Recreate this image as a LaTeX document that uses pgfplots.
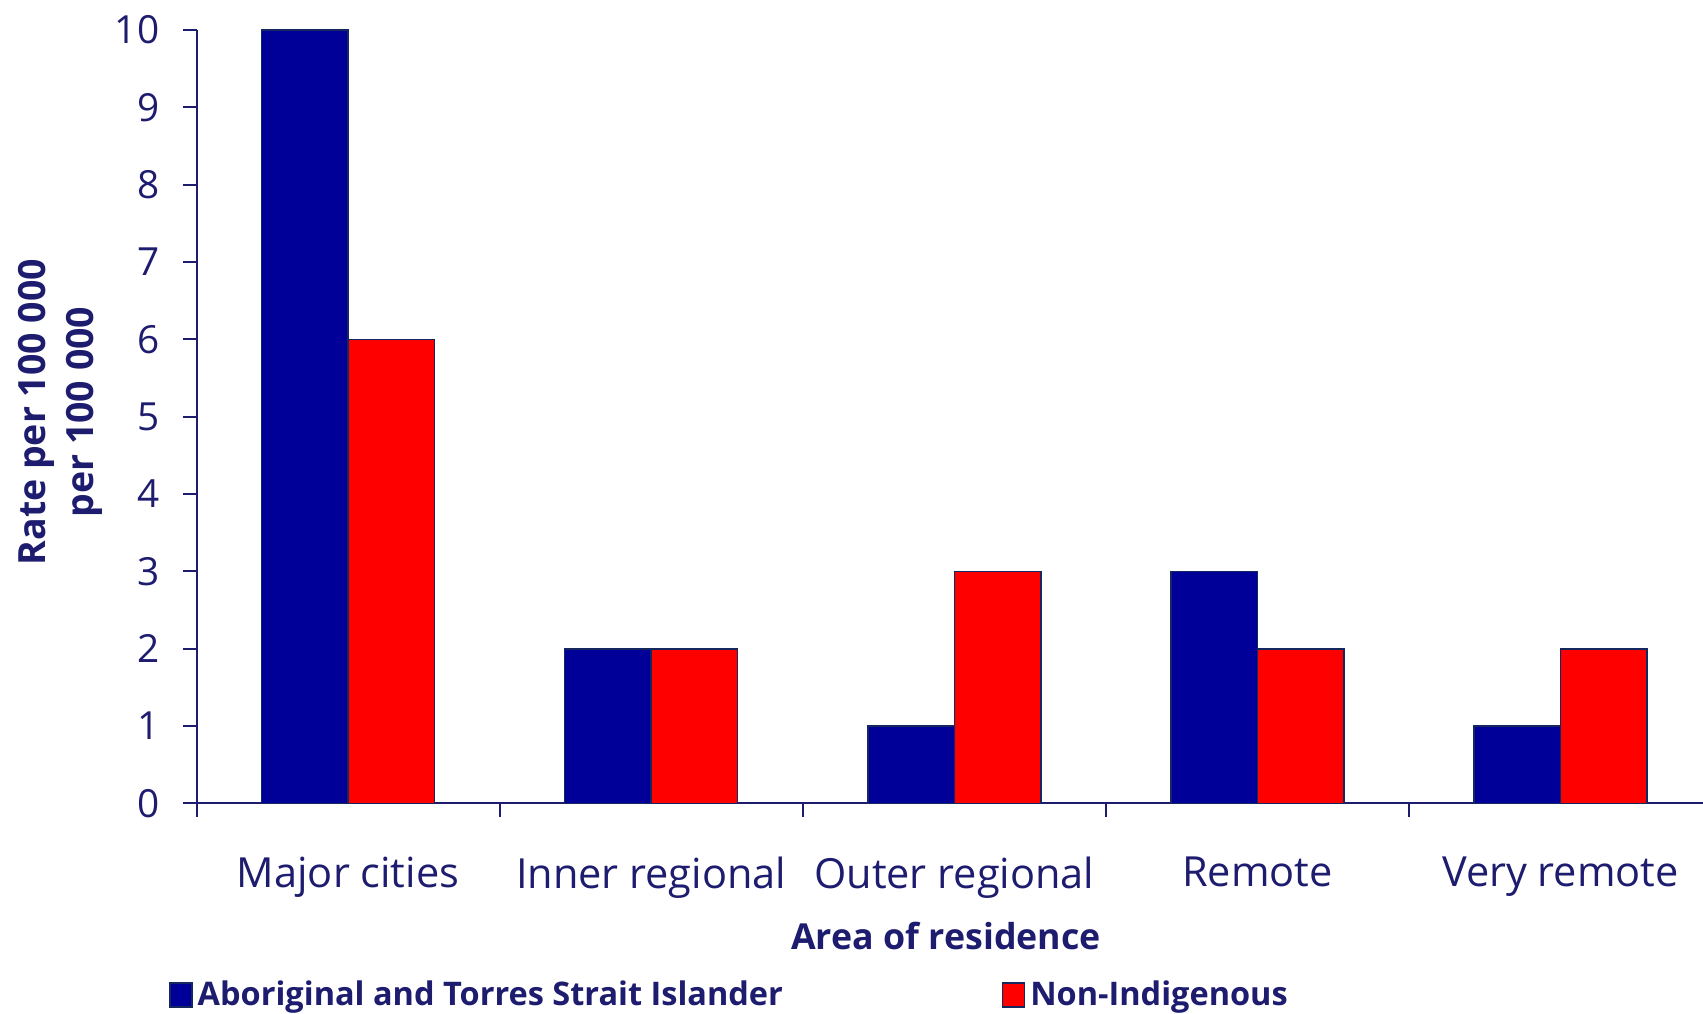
\documentclass[border=0pt]{standalone}
\usepackage{pgfplots}
\pgfplotsset{compat=1.18}
\usepackage{fontspec}
\setmainfont{Open Sans}
\definecolor{navytext}{RGB}{30,28,110}
\definecolor{barblue}{RGB}{0,0,153}
\definecolor{barred}{RGB}{255,0,0}
\definecolor{edge}{RGB}{20,40,95}
\begin{document}
\begin{tikzpicture}
\path[use as bounding box] (-78.64pt,-84.2pt) rectangle (602.56pt,321.4pt);
\begin{axis}[
  at={(0,0)}, anchor=south west,
  scale only axis,
  width=602.56pt, height=309.4pt,
  ybar=0pt, bar width=34.6pt,
  xmin=-0.5, xmax=4.47,
  ymin=0, ymax=10,
  ytick={0,1,...,10},
  xtick={-0.5,0.5,1.5,2.5,3.5},
  xticklabels={Major cities,Inner regional,Outer regional,Remote,Very remote},
  xticklabel style={xshift=60.6pt, yshift=-12.4pt, font=\fontsize{16.6}{19}\selectfont, text=navytext},
  yticklabel style={font=\fontsize{15.5}{18}\selectfont, text=navytext, xshift=-6pt},
  /pgf/number format/assume math mode=true,
  axis x line*=bottom, axis y line*=left,
  axis line style={draw=navytext, line width=0.8pt},
  tick style={draw=navytext, line width=0.8pt},
  tick align=outside, major tick length=5.4pt,
  xlabel={\textbf{Area of residence}},
  xlabel style={font=\fontsize{14.3}{17}\selectfont, text=navytext, at={(axis description cs:0.4975,0)}, anchor=center, yshift=-53pt},
  ylabel={\textbf{Rate per 100 000}\\\textbf{per 100 000}},
  ylabel style={font=\fontsize{15}{19.2}\selectfont, text=navytext, align=center, at={(axis description cs:-0.0907,0.506)}, anchor=center, rotate=0},
  legend columns=2,
  legend style={draw=none, fill=none, at={(axis description cs:-0.0235,-0.2476)}, anchor=west, font=\fontsize{13}{16}\selectfont\bfseries, text=navytext,
    /tikz/every even column/.append style={column sep=85.5pt}},
  legend image code/.code={\draw[#1, draw=edge] (0pt,-4.8pt) rectangle (8.8pt,4.8pt);},
]
\addplot[fill=barblue, draw=edge, line width=0.6pt] coordinates {(0,10) (1,2) (2,1) (3,3) (4,1)};
\addplot[fill=barred, draw=edge, line width=0.6pt] coordinates {(0,6) (1,2) (2,3) (3,2) (4,2)};
\legend{Aboriginal and Torres Strait Islander, Non-Indigenous}
\end{axis}
\end{tikzpicture}
\end{document}
